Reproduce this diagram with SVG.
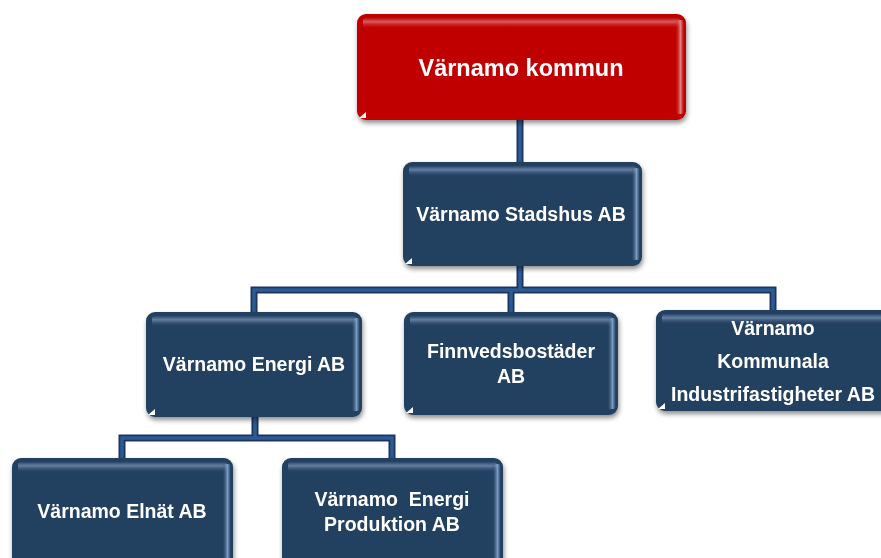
<svg xmlns="http://www.w3.org/2000/svg" width="881" height="558" viewBox="0 0 881 558">
<defs>
<style>
.t{font-family:"Liberation Sans",Arial,sans-serif;font-weight:bold;fill:#fff;text-anchor:middle;font-size:19.5px}
.c1{fill:none;stroke:#1B3560;stroke-width:7;stroke-linejoin:miter}
.c2{fill:none;stroke:#2D5A92;stroke-width:3.5;stroke-linejoin:miter}
.blue{fill:#243F60}
.red{fill:#C00000}
</style>
<filter id="sh" x="-10%" y="-10%" width="125%" height="130%">
<feGaussianBlur in="SourceAlpha" stdDeviation="2.5"/>
<feOffset dx="1" dy="3" result="b"/>
<feComponentTransfer><feFuncA type="linear" slope="0.45"/></feComponentTransfer>
<feMerge><feMergeNode/><feMergeNode in="SourceGraphic"/></feMerge>
</filter>
<linearGradient id="topB" x1="0" y1="0" x2="0" y2="1">
<stop offset="0" stop-color="#1E3556"/>
<stop offset="0.4" stop-color="#7390B4"/>
<stop offset="1" stop-color="#243F60" stop-opacity="0"/>
</linearGradient>
<linearGradient id="topR" x1="0" y1="0" x2="0" y2="1">
<stop offset="0" stop-color="#A00000"/>
<stop offset="0.4" stop-color="#E87070"/>
<stop offset="1" stop-color="#C00000" stop-opacity="0"/>
</linearGradient>
<linearGradient id="rightB" x1="0" y1="0" x2="1" y2="0">
<stop offset="0" stop-color="#243F60" stop-opacity="0"/>
<stop offset="0.6" stop-color="#8FB6DE"/>
<stop offset="1" stop-color="#1E3556"/>
</linearGradient>
<linearGradient id="rightR" x1="0" y1="0" x2="1" y2="0">
<stop offset="0" stop-color="#C00000" stop-opacity="0"/>
<stop offset="0.6" stop-color="#F0A0A0"/>
<stop offset="1" stop-color="#A00000"/>
</linearGradient>
</defs>
<rect width="881" height="558" fill="#fff"/>

<g id="connectors">
<path class="c1" d="M520 120V163M520 266V290M254 312V290H773V310M511 290V312M255 417V438M122 458V438H392V458"/>
<path class="c2" d="M520 120V163M520 266V290M254 312V290H773V310M511 290V312M255 417V438M122 458V438H392V458"/>
</g>

<g id="n_kommun" filter="url(#sh)">
<rect class="red" x="357" y="14" width="329" height="106" rx="9"/>
<rect x="363" y="17" width="317" height="12" rx="4" fill="url(#topR)" opacity="0.8"/>
<rect x="675" y="20" width="9" height="94" rx="3" fill="url(#rightR)" opacity="0.8"/>
<path d="M359 118l7-6v6z" fill="#fff"/>
<text class="t" x="521" y="76" style="font-size:23.5px">Värnamo kommun</text>
</g>

<g id="n_stadshus" filter="url(#sh)">
<rect class="blue" x="403" y="162" width="239" height="104" rx="9"/>
<rect x="409" y="165" width="227" height="12" rx="4" fill="url(#topB)" opacity="0.8"/>
<rect x="631" y="168" width="9" height="92" rx="3" fill="url(#rightB)" opacity="0.8"/>
<path d="M405 264l7-6v6z" fill="#fff"/>
<text class="t" x="521" y="221">Värnamo Stadshus AB</text>
</g>

<g id="n_energi" filter="url(#sh)">
<rect class="blue" x="146" y="312" width="216" height="105" rx="9"/>
<rect x="152" y="315" width="204" height="12" rx="4" fill="url(#topB)" opacity="0.8"/>
<rect x="351" y="318" width="9" height="93" rx="3" fill="url(#rightB)" opacity="0.8"/>
<path d="M148 415l7-6v6z" fill="#fff"/>
<text class="t" x="254" y="371">Värnamo Energi AB</text>
</g>

<g id="n_finnved" filter="url(#sh)">
<rect class="blue" x="404" y="312" width="214" height="103" rx="9"/>
<rect x="410" y="315" width="202" height="12" rx="4" fill="url(#topB)" opacity="0.8"/>
<rect x="607" y="318" width="9" height="91" rx="3" fill="url(#rightB)" opacity="0.8"/>
<path d="M406 413l7-6v6z" fill="#fff"/>
<text class="t" x="511" y="358">Finnvedsbostäder</text>
<text class="t" x="511" y="383">AB</text>
</g>

<g id="n_industri" filter="url(#sh)">
<rect class="blue" x="656" y="310" width="240" height="101" rx="9"/>
<rect x="662" y="313" width="228" height="12" rx="4" fill="url(#topB)" opacity="0.8"/>
<path d="M658 409l7-6v6z" fill="#fff"/>
<text class="t" x="773" y="335">Värnamo</text>
<text class="t" x="773" y="368">Kommunala</text>
<text class="t" x="773" y="401">Industrifastigheter AB</text>
</g>

<g id="n_elnat" filter="url(#sh)">
<rect class="blue" x="12" y="458" width="221" height="110" rx="9"/>
<rect x="18" y="461" width="209" height="12" rx="4" fill="url(#topB)" opacity="0.8"/>
<rect x="222" y="464" width="9" height="100" rx="3" fill="url(#rightB)" opacity="0.8"/>
<text class="t" x="122" y="518">Värnamo Elnät AB</text>
</g>

<g id="n_produktion" filter="url(#sh)">
<rect class="blue" x="282" y="458" width="221" height="110" rx="9"/>
<rect x="288" y="461" width="209" height="12" rx="4" fill="url(#topB)" opacity="0.8"/>
<rect x="492" y="464" width="9" height="100" rx="3" fill="url(#rightB)" opacity="0.8"/>
<text class="t" x="392" y="506" xml:space="preserve">Värnamo  Energi</text>
<text class="t" x="392" y="531">Produktion AB</text>
</g>
</svg>
